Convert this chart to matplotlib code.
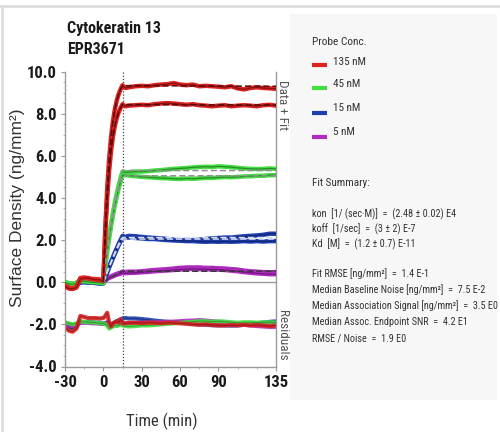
import matplotlib
matplotlib.use("Agg")
import matplotlib.pyplot as plt
import matplotlib.font_manager as fm
from matplotlib.lines import Line2D
from matplotlib.patches import Rectangle

# ---------------- data ----------------
time = [-30, -27, -24, -21, -18, -15, -12, -9, -6, -3, 0,
        1.5, 3, 4.5, 6, 7.5, 9, 10.5, 12, 13.5, 15,
        17, 20, 25, 30, 35, 40, 45, 50, 55, 60, 65, 70, 75, 80, 85, 90,
        95, 100, 105, 110, 115, 120, 125, 130, 135]

red_a = [-0.15, -0.25, -0.3, -0.22, 0.2, 0.22, 0.18, 0.15, 0.15, 0.12, 0.08,
         2.55, 4.44, 5.84, 6.88, 7.65, 8.21, 8.63, 8.93, 9.16, 9.35,
         9.22, 9.25, 9.3, 9.32, 9.3, 9.35, 9.38, 9.4, 9.45, 9.38, 9.35, 9.38,
         9.3, 9.32, 9.3, 9.28, 9.25, 9.3, 9.2, 9.15, 9.22, 9.25, 9.22, 9.2, 9.18]
red_b = [-0.2, -0.3, -0.32, -0.25, 0.15, 0.2, 0.2, 0.15, 0.12, 0.12, 0.05,
         2.3, 4.01, 5.28, 6.22, 6.92, 7.42, 7.8, 8.07, 8.28, 8.45,
         8.35, 8.38, 8.4, 8.42, 8.4, 8.45, 8.48, 8.5, 8.48, 8.45, 8.42, 8.45,
         8.4, 8.38, 8.35, 8.38, 8.4, 8.35, 8.38, 8.4, 8.38, 8.35, 8.4, 8.42, 8.38]
green_a = [0.02, -0.05, -0.08, -0.02, 0.1, 0.08, 0.05, 0.05, 0.02, 0.0, -0.02,
           0.8, 1.52, 2.17, 2.76, 3.3, 3.79, 4.22, 4.61, 4.97, 5.25,
           5.22, 5.22, 5.25, 5.25, 5.27, 5.3, 5.32, 5.35, 5.38, 5.4, 5.42, 5.45,
           5.47, 5.48, 5.47, 5.5, 5.48, 5.46, 5.43, 5.4, 5.38, 5.37, 5.38, 5.4, 5.38]
green_b = [0.0, -0.08, -0.1, -0.05, 0.05, 0.05, 0.02, 0.0, 0.0, -0.02, -0.05,
           0.77, 1.46, 2.09, 2.66, 3.18, 3.65, 4.06, 4.44, 4.78, 5.08,
           5.08, 5.06, 5.03, 5.0, 4.98, 4.96, 4.94, 4.93, 4.91, 4.9, 4.92, 4.91,
           4.93, 4.95, 4.95, 4.97, 4.99, 4.98, 5.0, 5.02, 5.03, 5.05, 5.05, 5.08, 5.08]
blue_a = [-0.05, -0.15, -0.2, -0.1, 0.0, 0.02, 0.0, 0.0, -0.02, -0.05, -0.05,
          0.25, 0.5, 0.74, 0.97, 1.19, 1.41, 1.61, 1.82, 2.01, 2.2,
          2.15, 2.2, 2.18, 2.15, 2.12, 2.1, 2.08, 2.05, 2.02, 2.0, 1.98, 2.0,
          2.02, 2.05, 2.08, 2.1, 2.12, 2.12, 2.15, 2.18, 2.2, 2.22, 2.25, 2.3, 2.3]
blue_b = [-0.08, -0.18, -0.22, -0.12, -0.02, 0.0, -0.02, -0.02, -0.04, -0.06, -0.06,
          0.22, 0.46, 0.7, 0.92, 1.14, 1.35, 1.56, 1.76, 1.95, 2.12,
          2.1, 2.12, 2.1, 2.08, 2.05, 2.05, 2.02, 2.0, 1.98, 1.97, 1.95, 1.95,
          1.93, 1.92, 1.93, 1.92, 1.93, 1.92, 1.93, 1.95, 1.93, 1.95, 1.93, 1.95, 1.95]
magenta_a = [0.0, -0.05, -0.08, -0.03, 0.05, 0.05, 0.03, 0.02, 0.0, 0.0, -0.02,
             0.1, 0.18, 0.24, 0.28, 0.32, 0.36, 0.4, 0.43, 0.46, 0.5,
             0.48, 0.5, 0.5, 0.52, 0.55, 0.58, 0.6, 0.62, 0.65, 0.68, 0.7, 0.7,
             0.7, 0.68, 0.68, 0.66, 0.65, 0.62, 0.6, 0.55, 0.52, 0.5, 0.48, 0.47, 0.48]
magenta_b = [-0.02, -0.08, -0.1, -0.05, 0.02, 0.02, 0.0, 0.0, -0.02, -0.02, -0.04,
             0.08, 0.15, 0.2, 0.24, 0.28, 0.32, 0.35, 0.38, 0.41, 0.44,
             0.43, 0.44, 0.45, 0.47, 0.49, 0.52, 0.54, 0.56, 0.58, 0.6, 0.62, 0.63,
             0.62, 0.62, 0.6, 0.6, 0.58, 0.55, 0.52, 0.48, 0.45, 0.42, 0.4, 0.38, 0.38]

# residuals (drawn offset around -2)
res_red = [-2.15, -2.3, -2.35, -2.2, -1.6, -1.65, -1.7, -1.7, -1.7, -1.72, -1.7,
           -1.6, -1.45, -1.9, -2.1, -1.95, -1.9, -1.85, -1.92, -1.75, -1.95,
           -1.95, -1.93, -1.92, -1.94, -1.92, -1.93, -1.95, -1.92, -1.93, -1.95, -1.97, -2.0,
           -2.02, -2.0, -2.03, -2.05, -2.05, -2.03, -2.05, -2.02, -2.05, -2.03, -2.05, -2.08, -2.05]
res_green = [-1.9, -1.95, -2.0, -1.95, -1.85, -1.88, -1.9, -1.9, -1.92, -1.95, -1.95,
             -2.0, -2.05, -2.2, -2.15, -2.1, -2.05, -2.08, -2.05, -2.0, -2.05,
             -2.08, -2.1, -2.08, -2.05, -2.05, -2.03, -2.0, -1.98, -1.95, -1.93, -1.9, -1.88,
             -1.85, -1.85, -1.88, -1.85, -1.87, -1.9, -1.92, -1.9, -1.9, -1.92, -1.9, -1.9, -1.92]
res_blue = [-2.05, -2.15, -2.2, -2.1, -1.9, -1.9, -1.88, -1.9, -1.92, -1.92, -1.95,
            -1.95, -1.9, -1.95, -2.0, -1.95, -1.9, -1.85, -1.8, -1.78, -1.72,
            -1.7, -1.72, -1.72, -1.75, -1.78, -1.82, -1.85, -1.88, -1.9, -1.92, -1.95, -1.97,
            -2.0, -2.02, -2.04, -2.05, -2.05, -2.06, -2.05, -2.02, -1.98, -1.95, -1.92, -1.88, -1.86]
res_magenta = [-2.0, -2.05, -2.08, -2.0, -1.92, -1.92, -1.93, -1.95, -1.95, -1.97, -1.98,
               -1.98, -1.95, -2.0, -2.02, -2.0, -1.98, -1.97, -1.98, -1.96, -1.95,
               -1.95, -1.96, -1.95, -1.93, -1.92, -1.9, -1.9, -1.88, -1.87, -1.85, -1.83, -1.82,
               -1.8, -1.82, -1.85, -1.88, -1.92, -1.95, -1.98, -2.02, -2.05, -2.08, -2.1, -2.12, -2.12]

# model fits (flat dissociation)
fit_time = [0, 1.5, 3, 4.5, 6, 7.5, 9, 10.5, 12, 13.5, 15, 135]
fit_red_a = [0, 2.55, 4.44, 5.84, 6.88, 7.65, 8.21, 8.63, 8.93, 9.16, 9.33, 9.3]
fit_red_b = [0, 2.3, 4.01, 5.28, 6.22, 6.92, 7.42, 7.8, 8.07, 8.28, 8.43, 8.41]
fit_green_a = [0, 0.8, 1.52, 2.17, 2.76, 3.3, 3.79, 4.22, 4.61, 4.97, 5.3, 5.3]
fit_green_b = [0, 0.77, 1.46, 2.09, 2.66, 3.18, 3.65, 4.06, 4.44, 4.78, 5.05, 5.05]
fit_blue_a = [0, 0.25, 0.5, 0.74, 0.97, 1.19, 1.41, 1.61, 1.82, 2.01, 2.12, 2.12]
fit_blue_b = [0, 0.23, 0.47, 0.7, 0.92, 1.13, 1.34, 1.54, 1.73, 1.91, 2.05, 2.05]
fit_magenta_a = [0, 0.06, 0.12, 0.17, 0.23, 0.28, 0.33, 0.38, 0.43, 0.48, 0.52, 0.52]

series_labels = ['135 nM', '45 nM', '15 nM', '5 nM']
series_colors = ['#dd2222', '#44dd44', '#1f3fae', '#b02cc0']
core_colors = ['#6e0e0e', '#1f7a1f', '#0c1f66', '#5e1268']
fit_colors = ['#5a0a0a', '#909090', '#d8dcf0', '#3a3a3a']

x_major = [-30, 0, 30, 60, 90, 135]
x_minor = [-15, 15, 45, 75, 105, 120]
y_major = [-4, -2, 0, 2, 4, 6, 8, 10]

summary_lines = [
    'kon  [1/ (sec\u00b7M)]  =  (2.48 \u00b1 0.02) E4',
    'koff  [1/sec]  =  (3 \u00b1 2) E-7',
    'Kd  [M]  =  (1.2 \u00b1 0.7) E-11',
    '',
    'Fit RMSE [ng/mm\u00b2]  =  1.4 E-1',
    'Median Baseline Noise [ng/mm\u00b2]  =  7.5 E-2',
    'Median Association Signal [ng/mm\u00b2]  =  3.5 E0',
    'Median Assoc. Endpoint SNR  =  4.2 E1',
    'RMSE / Noise  =  1.9 E0',
]

# ---------------- font selection ----------------
def pick_narrow():
    names = {f.name for f in fm.fontManager.ttflist}
    for cand in ['Liberation Sans Narrow', 'Arial Narrow', 'Roboto Condensed',
                 'Open Sans Condensed', 'DejaVu Sans Condensed']:
        if cand in names:
            return cand, 'normal', 1.0
    for f in fm.fontManager.ttflist:
        if str(f.stretch) in ('condensed', 'semi-condensed') and 'DejaVu Sans' == f.name:
            return 'DejaVu Sans', 'condensed', 0.95
    return 'Liberation Sans', 'normal', 0.8

NARROW, STRETCH, SC = pick_narrow()
plt.rcParams['font.family'] = [NARROW, 'Liberation Sans', 'DejaVu Sans']
plt.rcParams['font.stretch'] = STRETCH

# ---------------- figure ----------------
W, H = 500, 432
fig = plt.figure(figsize=(W / 100, H / 100), dpi=100)
fig.patch.set_facecolor('white')

def fx(px):
    return px / W

def fy(py):
    return 1 - py / H

fig.patches.append(Rectangle((fx(290), fy(400)), fx(207), (400 - 14) / H,
                             transform=fig.transFigure, facecolor='#f7f7f7',
                             edgecolor='none', zorder=0))
fig.lines.append(Line2D([0, 1], [fy(6), fy(6)], transform=fig.transFigure,
                        color='#dddddd', lw=2))
fig.lines.append(Line2D([fx(2), fx(2)], [fy(6), 0], transform=fig.transFigure,
                        color='#dddddd', lw=2))

ax = fig.add_axes([fx(65), fy(366.5), fx(211), 295 / H])
ax.set_xlim(-30, 135)
ax.set_ylim(-4, 10)
ax.set_facecolor('white')

ax.spines['top'].set_visible(False)
for s in ['left', 'right', 'bottom']:
    ax.spines[s].set_color('#9a9a9a')
    ax.spines[s].set_linewidth(1)

ax.hlines(0, -30, 135, color='#9a9a9a', lw=1, zorder=1)
ax.axvline(15, color='#444444', ls=(0, (1, 1.5)), lw=0.9, zorder=1)

data_sets = [(red_a, red_b), (green_a, green_b), (blue_a, blue_b), (magenta_a, magenta_b)]
fit_sets = [(fit_red_a, fit_red_b), (fit_green_a, fit_green_b),
            (fit_blue_a, fit_blue_b), (fit_magenta_a,)]
res_sets = [res_red, res_green, res_blue, res_magenta]

for i in [2, 3, 1, 0]:
    ax.plot(time, res_sets[i], color=series_colors[i], lw=3, alpha=0.9,
            solid_joinstyle='round', zorder=2)
    ax.plot(time, res_sets[i], color=core_colors[i], lw=0.7, alpha=0.6, zorder=2)

for i in [3, 2, 1, 0]:
    for tr in data_sets[i]:
        ax.plot(time, tr, color=series_colors[i], lw=3.2, solid_joinstyle='round',
                zorder=3)
        ax.plot(time, tr, color=core_colors[i], lw=0.9, alpha=0.8, zorder=3)
    for ft in fit_sets[i]:
        ax.plot(fit_time, ft, color=fit_colors[i], lw=1.1, ls=(0, (4, 2)), zorder=4)

ax.set_xticks(x_major)
ax.set_xticks(x_minor, minor=True)
ax.set_xticklabels([str(v) for v in x_major])
ax.set_yticks(y_major)
ax.set_yticks([v / 2 for v in range(-8, 21)], minor=True)
ax.set_yticklabels(['%.1f' % v for v in y_major])
ax.tick_params(axis='both', which='major', direction='out', length=3,
               color='#9a9a9a', labelsize=12 * SC, labelcolor='#1a1a1a', pad=3)
ax.tick_params(axis='both', which='minor', direction='out', length=1.5,
               color='#b0b0b0')
for lab in ax.get_xticklabels() + ax.get_yticklabels():
    lab.set_fontweight('bold')

ax.text(1.033, 0.886, 'Data + Fit', transform=ax.transAxes, rotation=-90,
        ha='center', va='center', fontsize=9.5 * SC, color='#555555')
ax.text(1.033, 0.107, 'Residuals', transform=ax.transAxes, rotation=-90,
        ha='center', va='center', fontsize=9.5 * SC, color='#555555')

fig.text(fx(67), fy(28), 'Cytokeratin 13', fontsize=11.5 * SC, fontweight='bold',
         color='#1a1a1a', va='center', ha='left')
fig.text(fx(67), fy(50), 'EPR3671', fontsize=11.5 * SC, fontweight='bold',
         color='#1a1a1a', va='center', ha='left')
fig.text(fx(18), fy(208), 'Surface Density (ng/mm\u00b2)', rotation=90,
         fontsize=12.5, color='#333333', ha='center', va='center',
         family=['Liberation Sans', 'DejaVu Sans'], stretch='normal')
fig.text(fx(162), fy(421), 'Time (min)', fontsize=12 * SC, color='#333333',
         ha='center', va='center')

fig.text(fx(312), fy(42), 'Probe Conc.', fontsize=8.2 * SC, color='#333333', va='center')
leg_line_y = [65, 88, 113, 137]
leg_text_y = [62, 84, 108, 132]
for i, lab in enumerate(series_labels):
    fig.lines.append(Line2D([fx(312), fx(327)], [fy(leg_line_y[i]), fy(leg_line_y[i])],
                            transform=fig.transFigure, color=series_colors[i],
                            lw=3, solid_capstyle='butt'))
    fig.text(fx(333), fy(leg_text_y[i]), lab, fontsize=8 * SC, color='#333333',
             va='center')

fig.text(fx(312), fy(183), 'Fit Summary:', fontsize=8 * SC, color='#333333', va='center')
sum_y = [214, 229, 244, 259, 274, 290, 306, 322, 339]
for yy, line in zip(sum_y, summary_lines):
    if line:
        fig.text(fx(312), fy(yy), line, fontsize=7.3 * SC, color='#333333', va='center')

fig.savefig('out.png', dpi=100)
